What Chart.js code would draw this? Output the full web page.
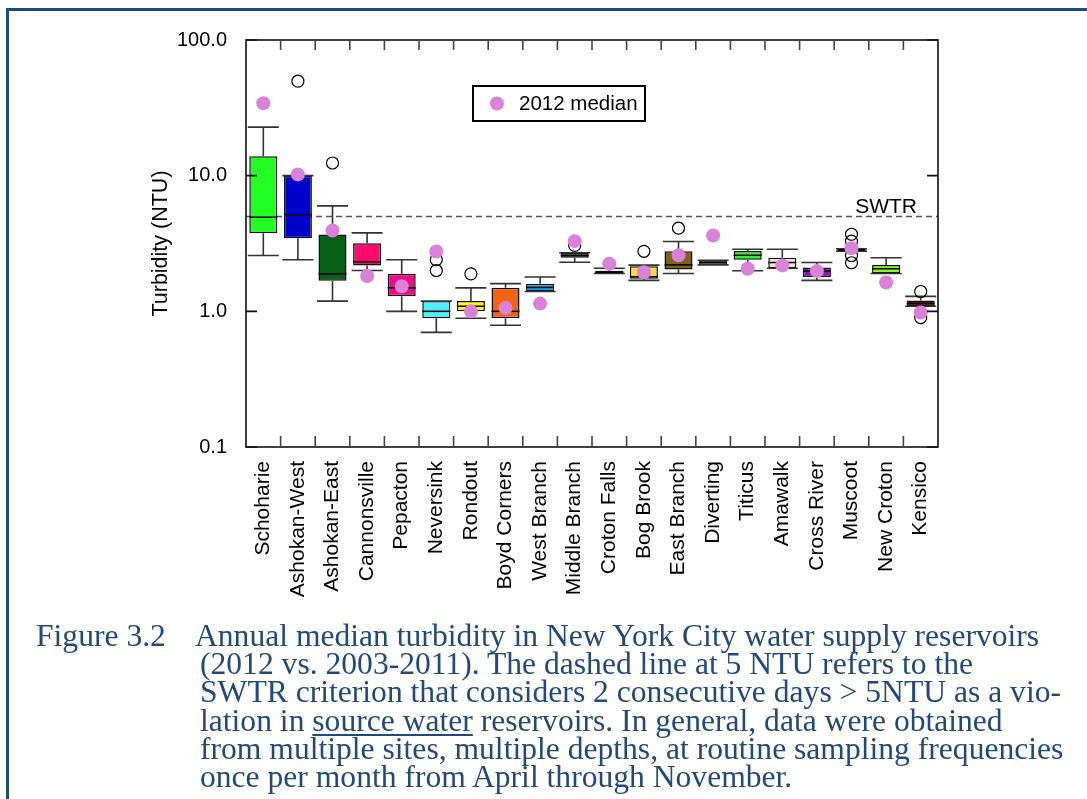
<!DOCTYPE html>
<html><head><meta charset="utf-8">
<script src="https://cdn.jsdelivr.net/npm/chart.js@4.4.1/dist/chart.umd.min.js"></script>
<style>
html,body{margin:0;padding:0;background:#fff;width:1087px;height:799px;overflow:hidden;position:relative;}
#frame{position:absolute;left:6px;top:8px;right:-10px;bottom:-10px;border-top:3px solid #1f4a7d;border-left:3px solid #1f4a7d;}
#wrap{position:absolute;left:0;top:0;width:1087px;height:620px;}
.cap{position:absolute;font-family:"Liberation Serif","Times New Roman",serif;font-size:31.6px;color:#22497c;white-space:nowrap;line-height:28px;}
.cap u{text-decoration-thickness:2px;text-underline-offset:3px;}
</style></head>
<body>
<div id="frame"></div>
<div id="wrap"><canvas id="c" width="1087" height="620"></canvas></div>
<div class="cap" style="left:36px;top:622px">Figure 3.2</div>
<div class="cap" style="left:195px;top:622px">Annual median turbidity in New York City water supply reservoirs</div>
<div class="cap" style="left:200px;top:650px">(2012 vs. 2003-2011). The dashed line at 5 NTU refers to the</div>
<div class="cap" style="left:200px;top:678px">SWTR criterion that considers 2 consecutive days &gt; 5NTU as a vio-</div>
<div class="cap" style="left:200px;top:707px">lation in <u>source water</u> reservoirs. In general, data were obtained</div>
<div class="cap" style="left:200px;top:735px">from multiple sites, multiple depths, at routine sampling frequencies</div>
<div class="cap" style="left:200px;top:763px">once per month from April through November.</div>
<script>
const categories = ["Schoharie","Ashokan-West","Ashokan-East","Cannonsville","Pepacton","Neversink","Rondout","Boyd Corners","West Branch","Middle Branch","Croton Falls","Bog Brook","East Branch","Diverting","Titicus","Amawalk","Cross River","Muscoot","New Croton","Kensico"];
const whiskerLow  = [2.58,2.40,1.19,2.00,1.00,0.70,0.89,0.79,1.40,2.30,1.90,1.69,1.90,2.20,1.99,2.08,1.69,2.77,1.90,1.09];
const q1          = [3.76,3.46,1.68,2.18,1.29,0.89,1.00,0.89,1.40,2.48,1.90,1.74,2.03,2.20,2.40,2.08,1.79,2.77,1.90,1.09];
const median      = [4.94,5.17,1.89,2.32,1.49,1.00,1.09,1.00,1.50,2.58,1.94,1.80,2.20,2.29,2.59,2.29,1.98,2.84,2.06,1.14];
const q3          = [13.9,10.0,3.68,3.18,1.89,1.19,1.19,1.49,1.60,2.70,1.99,2.15,2.77,2.38,2.79,2.48,2.10,2.89,2.20,1.20];
const whiskerHigh = [22.8,10.0,5.99,3.79,2.40,1.19,1.49,1.60,1.79,2.70,2.08,2.19,3.27,2.38,2.87,2.87,2.29,2.89,2.48,1.29];
const median2012  = [34.2,10.2,3.94,1.82,1.53,2.76,1.00,1.06,1.14,3.29,2.24,1.94,2.59,3.62,2.06,2.18,1.98,2.92,1.63,0.98];
const outlierCats = ["Ashokan-West","Ashokan-East","Neversink","Neversink","Rondout","Middle Branch","Bog Brook","East Branch","Muscoot","Muscoot","Muscoot","Muscoot","Kensico","Kensico"];
const outlierVals = [49.7,12.4,2.40,2.00,1.89,3.06,2.77,4.10,3.70,3.29,2.58,2.28,1.40,0.90];
const boxColors = ["#22ff22","#0000cc","#066018","#ff0a6e","#ee0c86","#4cf0ff","#ffff00","#f06414","#10a0e8","#303030","#d04070","#ffd840","#7a6418","#505050","#22ff22","#f2ead0","#9010c0","#d8e4d8","#80ff20","#700000"];
const yTicks = [0.1, 1, 10, 100];
const swtrLevel = 5;
const swtrLabel = "SWTR";
const legendLabel = "2012 median";
const yTitle = "Turbidity (NTU)";

const FONT = '"Liberation Sans", Arial, sans-serif';

const extras = {
  id: 'extras',
  beforeDatasetsDraw(chart) {
    const {ctx, chartArea: a, scales: {y}} = chart;
    const py = y.getPixelForValue(swtrLevel);
    ctx.save();
    ctx.strokeStyle = '#555'; ctx.lineWidth = 1.3; ctx.setLineDash([6, 4]);
    ctx.beginPath(); ctx.moveTo(a.left, py); ctx.lineTo(a.right, py); ctx.stroke();
    ctx.setLineDash([]);
    ctx.fillStyle = '#000'; ctx.font = '21px ' + FONT;
    ctx.textAlign = 'right'; ctx.textBaseline = 'alphabetic';
    ctx.fillText(swtrLabel, a.right - 21, py - 4);
    ctx.restore();
  },
  afterDatasetDraw(chart, args) {
    if (args.index !== 0) return;
    const {ctx, scales: {y}} = chart;
    ctx.save();
    args.meta.data.forEach((bar, i) => {
      const x = bar.x, hb = bar.width / 2, hc = hb + 1.5;
      const yl = y.getPixelForValue(whiskerLow[i]), y1 = y.getPixelForValue(q1[i]);
      const y3 = y.getPixelForValue(q3[i]), yh = y.getPixelForValue(whiskerHigh[i]);
      const ym = y.getPixelForValue(median[i]);
      ctx.strokeStyle = '#333'; ctx.lineWidth = 1.6;
      ctx.beginPath();
      ctx.moveTo(x, y1); ctx.lineTo(x, yl);
      ctx.moveTo(x - hc, yl); ctx.lineTo(x + hc, yl);
      ctx.moveTo(x, y3); ctx.lineTo(x, yh);
      ctx.moveTo(x - hc, yh); ctx.lineTo(x + hc, yh);
      ctx.stroke();
      ctx.strokeStyle = '#000'; ctx.lineWidth = 1.5;
      ctx.beginPath(); ctx.moveTo(x - hb, ym); ctx.lineTo(x + hb, ym); ctx.stroke();
    });
    ctx.restore();
  },
  afterDraw(chart) {
    const {ctx, chartArea: a, scales: {x, y}} = chart;
    ctx.save();
    ctx.strokeStyle = '#111'; ctx.lineWidth = 1.6;
    ctx.strokeRect(a.left, a.top, a.right - a.left, a.bottom - a.top);
    ctx.beginPath();
    yTicks.forEach(v => {
      const py = y.getPixelForValue(v);
      ctx.moveTo(a.left, py); ctx.lineTo(a.left + 11, py);
      ctx.moveTo(a.right, py); ctx.lineTo(a.right - 11, py);
    });
    ctx.stroke();
    ctx.strokeStyle = '#444'; ctx.lineWidth = 1.6;
    ctx.beginPath();
    for (let i = 1; i < categories.length; i++) {
      const px = (x.getPixelForValue(i - 1) + x.getPixelForValue(i)) / 2;
      ctx.moveTo(px, a.top); ctx.lineTo(px, a.top + 10);
      ctx.moveTo(px, a.bottom); ctx.lineTo(px, a.bottom - 11);
    }
    ctx.stroke();
    // legend
    const lx = a.left + 227, ly = a.top + 46, lw = 172, lh = 35;
    ctx.fillStyle = '#fff'; ctx.fillRect(lx, ly, lw, lh);
    ctx.strokeStyle = '#000'; ctx.lineWidth = 2; ctx.strokeRect(lx, ly, lw, lh);
    const ds = chart.data.datasets[2];
    ctx.fillStyle = ds.pointBackgroundColor;
    ctx.beginPath(); ctx.arc(lx + 24, ly + 17.5, 7, 0, Math.PI * 2); ctx.fill();
    ctx.fillStyle = '#000'; ctx.font = '20.5px ' + FONT;
    ctx.textAlign = 'left'; ctx.textBaseline = 'middle';
    ctx.fillText(ds.label, lx + 46, ly + 18);
    ctx.restore();
  }
};

new Chart(document.getElementById('c'), {
  data: {
    labels: categories,
    datasets: [
      {
        type: 'bar', label: 'boxes',
        data: categories.map((c, i) => [q1[i], q3[i]]),
        backgroundColor: boxColors, borderColor: '#111', borderWidth: 1.5,
        borderSkipped: false, barPercentage: 0.81, categoryPercentage: 1, order: 3
      },
      {
        type: 'line', label: 'outliers',
        data: outlierCats.map((c, i) => ({x: c, y: outlierVals[i]})),
        showLine: false, pointRadius: 6, pointBorderColor: '#000', pointBorderWidth: 1.2,
        pointBackgroundColor: 'rgba(0,0,0,0)', order: 2
      },
      {
        type: 'line', label: legendLabel,
        data: median2012,
        showLine: false, pointRadius: 7, pointBorderWidth: 0,
        pointBackgroundColor: '#da82da', pointBorderColor: '#da82da', order: 1
      }
    ]
  },
  options: {
    responsive: false, animation: false, events: [],
    layout: {padding: {left: 0, top: 40, right: 149, bottom: 0}},
    plugins: {legend: {display: false}, tooltip: {enabled: false}},
    scales: {
      x: {
        type: 'category', offset: true,
        grid: {display: false, drawTicks: false}, border: {display: false},
        ticks: {autoSkip: false, maxRotation: 90, minRotation: 90, padding: 14,
                color: '#000', font: {family: FONT, size: 21}},
        afterFit(s) { s.height = 173; }
      },
      y: {
        type: 'logarithmic', min: 0.1, max: 100,
        grid: {display: false, drawTicks: false}, border: {display: false},
        afterBuildTicks(s) { s.ticks = yTicks.map(v => ({value: v})); },
        ticks: {padding: 19, color: '#000', font: {family: FONT, size: 20},
                callback: v => Number(v).toFixed(1)},
        title: {display: true, text: yTitle, color: '#000', font: {family: FONT, size: 21.5},
                padding: {top: 148, bottom: 0}},
        afterFit(s) { s.width = 246; }
      }
    }
  },
  plugins: [extras]
});
</script>
</body></html>
